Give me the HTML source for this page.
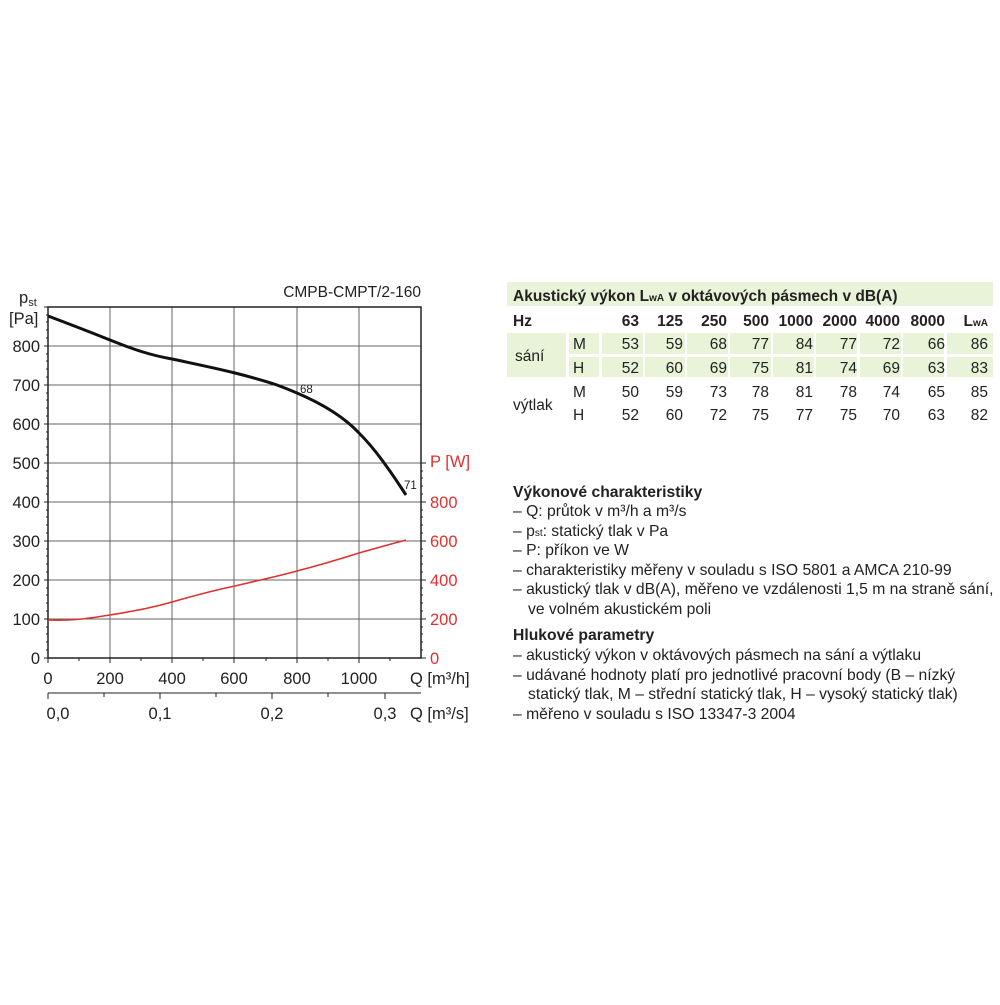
<!DOCTYPE html>
<html><head><meta charset="utf-8"><style>
body{margin:0;background:#fff}
svg text{font-family:"Liberation Sans",sans-serif}
</style></head><body>
<svg width="1000" height="1000" xmlns="http://www.w3.org/2000/svg">
<rect width="1000" height="1000" fill="#fff"/>
<g stroke="#666" stroke-width="1">
<line x1="110" y1="307" x2="110" y2="658"/><line x1="172" y1="307" x2="172" y2="658"/>
<line x1="234" y1="307" x2="234" y2="658"/><line x1="297" y1="307" x2="297" y2="658"/>
<line x1="359" y1="307" x2="359" y2="658"/>
<line x1="48" y1="346" x2="421" y2="346"/><line x1="48" y1="385" x2="421" y2="385"/>
<line x1="48" y1="424" x2="421" y2="424"/><line x1="48" y1="463" x2="421" y2="463"/>
<line x1="48" y1="502" x2="421" y2="502"/><line x1="48" y1="541" x2="421" y2="541"/>
<line x1="48" y1="580" x2="421" y2="580"/><line x1="48" y1="619" x2="421" y2="619"/>
</g>
<rect x="48" y="307" width="373" height="351" fill="none" stroke="#222" stroke-width="1.5"/>
<g stroke="#222" stroke-width="1">
<path d="M44 658H48M44 619H48M44 580H48M44 541H48M44 502H48M44 463H48M44 424H48M44 385H48M44 346H48M44 307H48"/>
<path d="M46 650H48M46 642H48M46 634H48M46 627H48M46 611H48M46 603H48M46 595H48M46 588H48M46 572H48M46 564H48M46 556H48M46 549H48M46 533H48M46 525H48M46 517H48M46 510H48M46 494H48M46 486H48M46 478H48M46 471H48M46 455H48M46 447H48M46 439H48M46 432H48M46 416H48M46 408H48M46 400H48M46 393H48M46 377H48M46 369H48M46 361H48M46 354H48M46 338H48M46 330H48M46 322H48M46 315H48"/>
<path d="M48 658V663M110 658V663M172 658V663M234 658V663M297 658V663M359 658V663M79 658V661M141 658V661M203 658V661M266 658V661M328 658V661M390 658V661"/>
<path d="M421 658H426M421 619H426M421 580H426M421 541H426M421 502H426M421 463H426M421 650H423M421 642H423M421 634H423M421 627H423M421 611H423M421 603H423M421 595H423M421 588H423M421 572H423M421 564H423M421 556H423M421 549H423M421 533H423M421 525H423M421 517H423M421 510H423M421 494H423M421 486H423M421 478H423M421 471H423"/>
<path d="M48 693H421M48 693V699M160 693V699M272 693V699M385 693V699M104 693V697M216 693V697M328 693V697"/>
</g>
<path d="M48 316 C80 328,95 334,110 340 C135 350,150 355,172 359 C200 365,215 368,235 373 C255 378,265 381,277 385 C285 388,290 390,297 393 C325 405,345 418,359 433 C372 446,380 457,387 467 C395 478,400 486,406 495" fill="none" stroke="#111" stroke-width="3"/>
<path d="M48 620 C70 621,85 619,110 615 C140 610,155 607,172 602 C200 594,215 590,235 586 C260 580,275 577,297 571 C320 565,340 559,359 553 C380 547,395 543,406 540" fill="none" stroke="#e03030" stroke-width="1.6"/>
<g font-size="16.5" fill="#222">
<text x="421" y="297" text-anchor="end" font-size="15.5">CMPB-CMPT/2-160</text>
<text x="19" y="303">p<tspan font-size="11" dy="3">st</tspan></text>
<text x="9" y="324">[Pa]</text>
<g text-anchor="end">
<text x="40" y="352">800</text><text x="40" y="391">700</text><text x="40" y="430">600</text>
<text x="40" y="469">500</text><text x="40" y="508">400</text><text x="40" y="547">300</text>
<text x="40" y="586">200</text><text x="40" y="625">100</text><text x="40" y="664">0</text>
</g>
<g text-anchor="middle">
<text x="48" y="684">0</text><text x="110" y="684">200</text><text x="172" y="684">400</text>
<text x="234" y="684">600</text><text x="297" y="684">800</text><text x="359" y="684">1000</text>
<text x="58" y="719">0,0</text><text x="160" y="719">0,1</text><text x="272" y="719">0,2</text><text x="385" y="719">0,3</text>
</g>
<text x="410" y="684">Q [m³/h]</text>
<text x="410" y="719">Q [m³/s]</text>
<text x="300" y="393" font-size="11.5">68</text>
<text x="404" y="489" font-size="11.5">71</text>
</g>
<g font-size="16.5" fill="#e03030">
<text x="430" y="467">P [W]</text>
<text x="430" y="508">800</text><text x="430" y="547">600</text><text x="430" y="586">400</text>
<text x="430" y="625">200</text><text x="430" y="664">0</text>
</g>
<g fill="#e8f3d8">
<rect x="507" y="282" width="486" height="24"/>
<rect x="507" y="333" width="59" height="44"/>
<rect x="569" y="333" width="30" height="21"/><rect x="569" y="357" width="30" height="20"/>
<rect x="602" y="333" width="41" height="21"/><rect x="602" y="357" width="41" height="20"/>
<rect x="645" y="333" width="40" height="21"/><rect x="645" y="357" width="40" height="20"/>
<rect x="687" y="333" width="41" height="21"/><rect x="687" y="357" width="41" height="20"/>
<rect x="730" y="333" width="41" height="21"/><rect x="730" y="357" width="41" height="20"/>
<rect x="773" y="333" width="41" height="21"/><rect x="773" y="357" width="41" height="20"/>
<rect x="816" y="333" width="41" height="21"/><rect x="816" y="357" width="41" height="20"/>
<rect x="860" y="333" width="41" height="21"/><rect x="860" y="357" width="41" height="20"/>
<rect x="903" y="333" width="41" height="21"/><rect x="903" y="357" width="41" height="20"/>
<rect x="947" y="333" width="46" height="21"/><rect x="947" y="357" width="46" height="20"/>
</g>
<g font-size="15.5" fill="#222">
<text x="513" y="301" font-weight="bold">Akustický výkon L<tspan font-size="10">wA</tspan> v oktávových pásmech v dB(A)</text>
<text x="513" y="326" font-weight="bold">Hz</text>
<g font-weight="bold" text-anchor="end">
<text x="639" y="326">63</text><text x="683" y="326">125</text><text x="727" y="326">250</text><text x="769" y="326">500</text><text x="813" y="326">1000</text><text x="857" y="326">2000</text><text x="900" y="326">4000</text><text x="945" y="326">8000</text><text x="988" y="326">L<tspan font-size="10">wA</tspan></text>
</g>
<text x="515" y="361">sání</text><text x="513" y="410">výtlak</text>
<text x="573" y="349">M</text><text x="573" y="373">H</text><text x="573" y="397">M</text><text x="573" y="420">H</text>
<g text-anchor="end">
<text y="349"><tspan x="639">53</tspan><tspan x="683">59</tspan><tspan x="727">68</tspan><tspan x="769">77</tspan><tspan x="813">84</tspan><tspan x="857">77</tspan><tspan x="900">72</tspan><tspan x="945">66</tspan><tspan x="988">86</tspan></text>
<text y="373"><tspan x="639">52</tspan><tspan x="683">60</tspan><tspan x="727">69</tspan><tspan x="769">75</tspan><tspan x="813">81</tspan><tspan x="857">74</tspan><tspan x="900">69</tspan><tspan x="945">63</tspan><tspan x="988">83</tspan></text>
<text y="397"><tspan x="639">50</tspan><tspan x="683">59</tspan><tspan x="727">73</tspan><tspan x="769">78</tspan><tspan x="813">81</tspan><tspan x="857">78</tspan><tspan x="900">74</tspan><tspan x="945">65</tspan><tspan x="988">85</tspan></text>
<text y="420"><tspan x="639">52</tspan><tspan x="683">60</tspan><tspan x="727">72</tspan><tspan x="769">75</tspan><tspan x="813">77</tspan><tspan x="857">75</tspan><tspan x="900">70</tspan><tspan x="945">63</tspan><tspan x="988">82</tspan></text>
</g>
</g>
<g font-size="15.7" fill="#222">
<text x="513" y="497" font-weight="bold">Výkonové charakteristiky</text>
<text x="513" y="516">– Q: průtok v m³/h a m³/s</text>
<text x="513" y="536">– p<tspan font-size="10">st</tspan>: statický tlak v Pa</text>
<text x="513" y="555">– P: příkon ve W</text>
<text x="513" y="575">– charakteristiky měřeny v souladu s ISO 5801 a AMCA 210-99</text>
<text x="513" y="594">– akustický tlak v dB(A), měřeno ve vzdálenosti 1,5 m na straně sání,</text>
<text x="528" y="614">ve volném akustickém poli</text>
<text x="513" y="640" font-weight="bold">Hlukové parametry</text>
<text x="513" y="660">– akustický výkon v oktávových pásmech na sání a výtlaku</text>
<text x="513" y="680">– udávané hodnoty platí pro jednotlivé pracovní body (B – nízký</text>
<text x="528" y="699">statický tlak, M – střední statický tlak, H – vysoký statický tlak)</text>
<text x="513" y="719">– měřeno v souladu s ISO 13347-3 2004</text>
</g>
</svg>
</body></html>
